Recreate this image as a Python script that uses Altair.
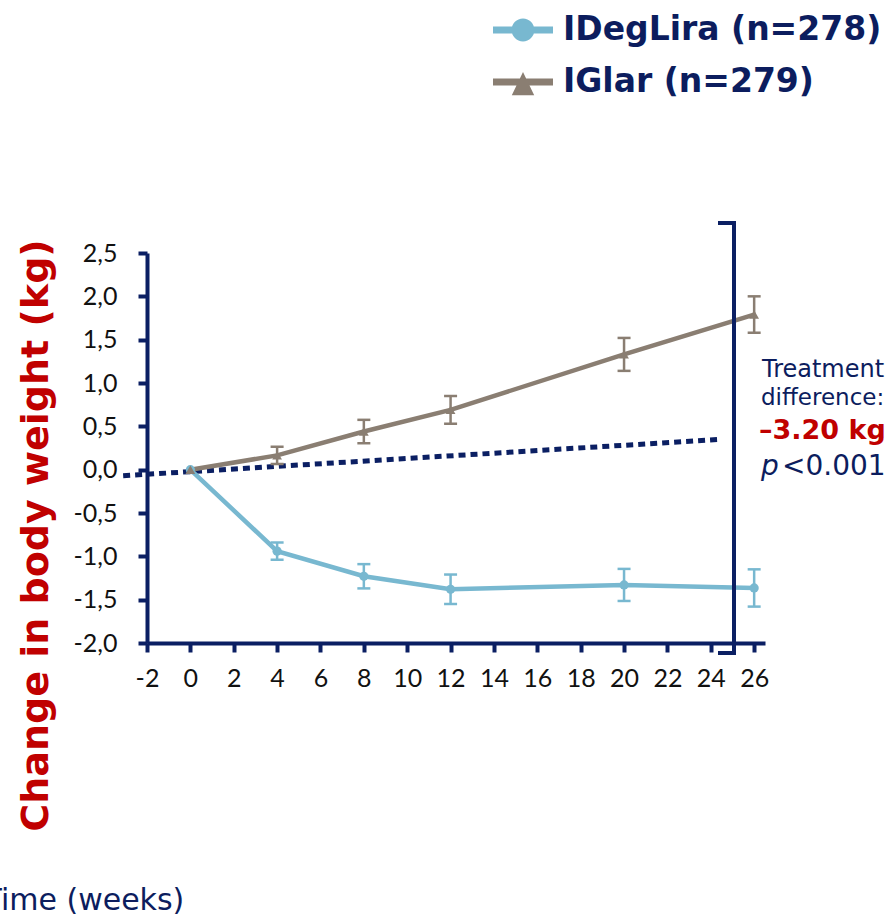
import altair as alt
import pandas as pd

# ---- data ----
series_names = ["IDegLira (n=278)", "IGlar (n=279)"]
weeks = [0, 4, 8, 12, 20, 26]
ideglira_mean = [0.0, -0.94, -1.23, -1.38, -1.33, -1.365]
ideglira_se = [0.0, 0.10, 0.14, 0.17, 0.185, 0.215]
iglar_mean = [0.0, 0.165, 0.44, 0.69, 1.33, 1.79]
iglar_se = [0.0, 0.10, 0.135, 0.16, 0.19, 0.21]
trend_x = [-3.1, 24.5]
trend_y = [-0.07, 0.35]
x_ticks = list(range(-2, 27, 2))
y_ticks = [-2.0, -1.5, -1.0, -0.5, 0.0, 0.5, 1.0, 1.5, 2.0, 2.5]

NAVY = "#0b1f63"
TEXT_NAVY = "#0c1d5e"
RED = "#c00000"
BLUE = "#78b8d0"
TAUPE = "#8a7e72"

rows = []
for name, means, ses in [(series_names[0], ideglira_mean, ideglira_se),
                         (series_names[1], iglar_mean, iglar_se)]:
    for w, m, s in zip(weeks, means, ses):
        rows.append({"series": name, "week": w, "mean": m,
                     "lo": m - s, "hi": m + s, "se": s})
df = pd.DataFrame(rows)
trend = pd.DataFrame({"x": trend_x, "y": trend_y})

xscale = alt.Scale(domain=[-2, 26.5], nice=False, zero=False)
yscale = alt.Scale(domain=[-2, 2.5], nice=False, zero=False)
cscale = alt.Scale(domain=series_names, range=[BLUE, TAUPE])

circle_sym = ("M-1.5,-0.175 L1.5,-0.175 L1.5,0.175 L-1.5,0.175 Z "
              "M0.57,0 A0.57,0.57 0 1,1 -0.57,0 A0.57,0.57 0 1,1 0.57,0 Z")
tri_sym = ("M-1.5,-0.175 L1.5,-0.175 L1.5,0.175 L-1.5,0.175 Z "
           "M0,-0.5 L0.56,0.66 L-0.56,0.66 Z")
sscale = alt.Scale(domain=series_names, range=[circle_sym, tri_sym])

x_enc = alt.X(
    "week:Q", scale=xscale,
    axis=alt.Axis(
        values=x_ticks, title="Time (weeks)", labelFlush=False,
        labelExpr="(datum.value < 0 ? '-' : '') + abs(datum.value)",
        titleX=-164, titleY=266, titleAlign="left", titleBaseline="alphabetic",
        titleAnchor="start",
        titleFont="DejaVu Sans", titleFontSize=30, titleFontWeight="normal",
        titleColor=TEXT_NAVY, labelPadding=14,
    ),
)
y_enc = alt.Y(
    "mean:Q", scale=yscale,
    axis=alt.Axis(
        values=y_ticks, title="Change in body weight (kg)", labelFlush=False,
        labelExpr="(datum.value < 0 ? '-' : '') + replace(format(abs(datum.value), '.1f'), '.', ',')",
        titleX=-100, titleY=282, titleAngle=270, titleAlign="center",
        titleBaseline="alphabetic",
        titleFont="DejaVu Sans", titleFontSize=38, titleFontWeight="bold",
        titleColor=RED, labelPadding=21,
    ),
)

base = alt.Chart(df)

leg = alt.Legend(
    orient="none", legendX=356, legendY=-243, title=None,
    symbolSize=1600, symbolStrokeWidth=0, symbolOpacity=1,
    labelFont="DejaVu Sans", labelFontWeight="bold", labelFontSize=33,
    labelColor=TEXT_NAVY, labelOffset=20, rowPadding=15, padding=0,
    labelLimit=500,
)
legend_layer = base.transform_filter("false").mark_point(
    filled=True, opacity=1, size=1600
).encode(
    x=alt.X("week:Q", scale=xscale),
    y=alt.Y("mean:Q", scale=yscale),
    color=alt.Color("series:N", scale=cscale, legend=leg),
    shape=alt.Shape("series:N", scale=sscale, legend=leg),
)

trend_line = alt.Chart(trend).mark_line(
    color=NAVY, strokeWidth=5, strokeDash=[7, 5], clip=False
).encode(
    x=alt.X("x:Q", scale=xscale),
    y=alt.Y("y:Q", scale=yscale),
)

lines = base.mark_line(strokeWidth=4.5).encode(
    x=x_enc, y=y_enc,
    color=alt.Color("series:N", scale=cscale, legend=None),
    detail="series:N",
)

err = base.transform_filter("datum.se > 0")
err_rule = err.mark_rule(strokeWidth=2.5).encode(
    x="week:Q", y="lo:Q", y2="hi:Q",
    color=alt.Color("series:N", scale=cscale, legend=None),
)
err_lo = err.mark_tick(orient="horizontal", size=13, thickness=2.5, opacity=1).encode(
    x="week:Q", y="lo:Q",
    color=alt.Color("series:N", scale=cscale, legend=None),
)
err_hi = err.mark_tick(orient="horizontal", size=13, thickness=2.5, opacity=1).encode(
    x="week:Q", y="hi:Q",
    color=alt.Color("series:N", scale=cscale, legend=None),
)

pts_a = base.transform_filter(alt.datum.series == series_names[0]).mark_point(
    shape="circle", filled=True, size=85, opacity=1
).encode(x="week:Q", y="mean:Q", color=alt.Color("series:N", scale=cscale, legend=None))
pts_b = base.transform_filter(alt.datum.series == series_names[1]).mark_point(
    shape="triangle-up", filled=True, size=95, opacity=1
).encode(x="week:Q", y="mean:Q", color=alt.Color("series:N", scale=cscale, legend=None))

# bracket (decoration)
bracket_v = alt.Chart(df).mark_rule(color=NAVY, strokeWidth=4, clip=False).encode(
    x=alt.value(587), y=alt.value(-31), y2=alt.value(401))
bracket_t = alt.Chart(df).mark_rule(color=NAVY, strokeWidth=4, clip=False).encode(
    x=alt.value(571), x2=alt.value(589), y=alt.value(-30))
bracket_b = alt.Chart(df).mark_rule(color=NAVY, strokeWidth=4, clip=False).encode(
    x=alt.value(571), x2=alt.value(589), y=alt.value(400))

def label(text, x, y, size, color, weight="normal", style="normal"):
    return alt.Chart(pd.DataFrame({"t": [text]})).mark_text(
        align="left", baseline="alphabetic", font="DejaVu Sans",
        fontSize=size, fontWeight=weight, fontStyle=style, color=color,
    ).encode(text="t:N", x=alt.value(x), y=alt.value(y))

ann = [
    label("Treatment", 615, 124, 24, TEXT_NAVY),
    label("difference:", 614, 152, 23, TEXT_NAVY),
    label("\u20133.20 kg", 612, 186, 27, RED, weight="bold"),
    label("p", 614, 222, 28, TEXT_NAVY, style="italic"),
    label("<0.001", 635, 222, 28, TEXT_NAVY),
]

chart = alt.layer(
    legend_layer, trend_line, lines, err_rule, err_lo, err_hi, pts_a, pts_b,
    bracket_v, bracket_t, bracket_b, *ann
).properties(
    width=618, height=390,
    autosize=alt.AutoSizeParams(type="none"),
    padding={"left": 147, "top": 253, "right": 129, "bottom": 271},
).configure_view(stroke=None).configure_axis(
    grid=False, domainColor=NAVY, domainWidth=4, tickColor=NAVY, tickWidth=4,
    tickSize=9, labelColor="#111111", labelFont="Lato", labelFontSize=25,
)

chart.save("out.html", embed_options={"renderer": "svg", "actions": False})
